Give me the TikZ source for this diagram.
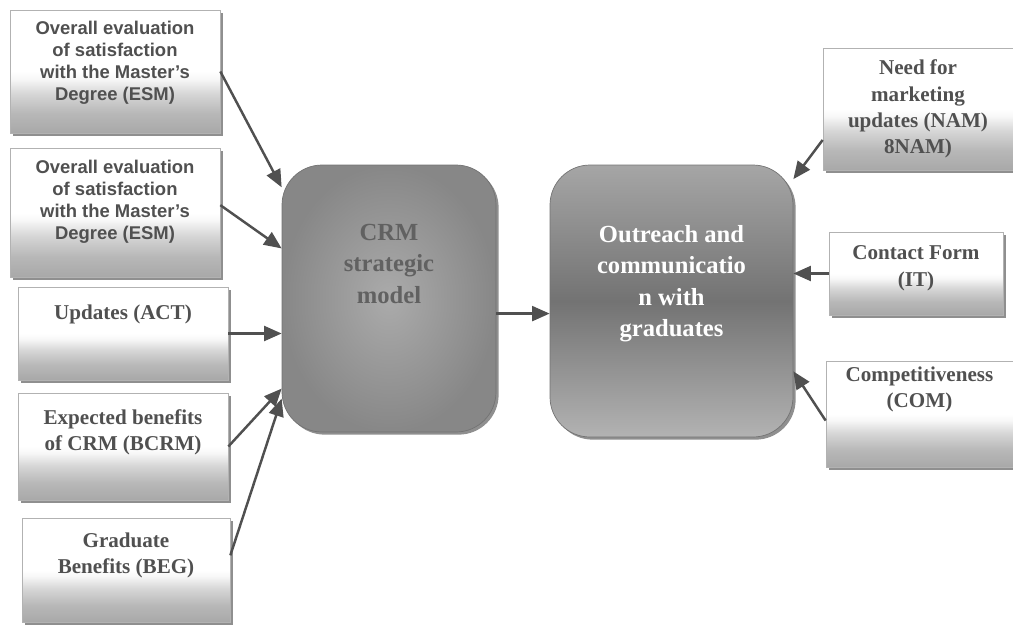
\documentclass[tikz,border=0pt]{standalone}
\usepackage{fontspec}
\usepackage{tikz}
\usepackage{xcolor}
\usetikzlibrary{arrows.meta,shadows}
\setmainfont{Liberation Serif}
\newfontfamily\sansboxfont{Liberation Sans}
\definecolor{inktext}{HTML}{505050}
\definecolor{arrowgray}{HTML}{505050}
\pgfdeclareverticalshading{factorfade}{100bp}{color(0bp)=(black!34); color(25bp)=(black!34); color(33bp)=(black!28); color(41bp)=(black!16); color(47bp)=(black!3); color(50bp)=(white); color(100bp)=(white)}

\begin{document}
\begin{tikzpicture}[
  factorbox/.style={rectangle, draw=black!30, thin, shading=factorfade,
    drop shadow={shadow xshift=1.5pt, shadow yshift=-1.5pt, fill=black!55, opacity=0.8},
    align=center, text=inktext, font=\bfseries\fontsize{12}{15}\selectfont},
  sansfactor/.style={factorbox, font=\sansboxfont\bfseries\fontsize{10.5}{12.5}\selectfont},
  corebox/.style={rectangle, rounded corners=0.8cm, draw=black!55, thin, align=center,
    drop shadow={shadow xshift=1.5pt, shadow yshift=-1.5pt, fill=black!55, opacity=0.8},
    font=\bfseries\fontsize{14}{18}\selectfont},
  link/.style={draw=arrowgray, line width=1.4pt, -{Triangle[length=10pt,width=8.5pt]}}
]
\useasboundingbox (0,0) rectangle (20.26,-12.52);

% inputs of the CRM model
\node[sansfactor, minimum width=4.2cm, minimum height=2.46cm, text depth=0.43cm] (esmA) at (2.30,-1.43) {Overall evaluation\\of satisfaction\\with the Master’s\\Degree (ESM)};
\node[sansfactor, minimum width=4.2cm, minimum height=2.58cm, text depth=0.5cm] (esmB) at (2.30,-4.25) {Overall evaluation\\of satisfaction\\with the Master’s\\Degree (ESM)};
\node[factorbox, minimum width=4.2cm, minimum height=1.86cm, text depth=0.87cm] (act) at (2.46,-6.67) {Updates (ACT)};
\node[factorbox, minimum width=4.2cm, minimum height=2.14cm, text depth=0.67cm] (bcrm) at (2.46,-8.93) {Expected benefits\\of CRM (BCRM)};
\node[factorbox, minimum width=4.16cm, minimum height=2.08cm, text depth=0.67cm] (beg) at (2.52,-11.40) {Graduate\\Benefits (BEG)};

% the two central blocks
\node[corebox, minimum width=4.28cm, minimum height=5.34cm, text depth=1.4cm,
  shading=radial, inner color=black!33, outer color=black!47, text=black!62] (crm) at (7.78,-5.97) {CRM\\strategic\\model};
\node[corebox, minimum width=4.86cm, minimum height=5.44cm, text depth=0.8cm,
  shading=axis, top color=black!35, bottom color=black!30, middle color=black!55, text=white] (out) at (13.43,-6.02) {Outreach and\\communicatio\\n with\\graduates};

% inputs of the outreach block
\node[factorbox, minimum width=3.8cm, minimum height=2.44cm] (nam) at (18.36,-2.18) {Need for\\marketing\\updates (NAM)\\8NAM)};
\node[factorbox, minimum width=3.48cm, minimum height=1.66cm, text depth=0.3cm] (it) at (18.32,-5.47) {Contact Form\\(IT)};
\node[factorbox, minimum width=3.74cm, minimum height=2.04cm, text depth=1.07cm] (com) at (18.39,-8.28) {Competitiveness\\(COM)};

\draw[link] (esmA.east) -- (crm.134);
\draw[link] (esmB.4) -- (crm.155);
\draw[link] (act.east) -- (act.east -| crm.west);
\draw[link] (bcrm.east) -- (crm.220);
\draw[link] (beg.8) -- (crm.223);
\draw[link] (crm.-8) -- (crm.-8 -| out.west);
\draw[link] (nam.198) -- (out.45);
\draw[link] (it.west) -- (it.west -| out.east);
\draw[link] (com.184) -- (out.-30);
\end{tikzpicture}
\end{document}
